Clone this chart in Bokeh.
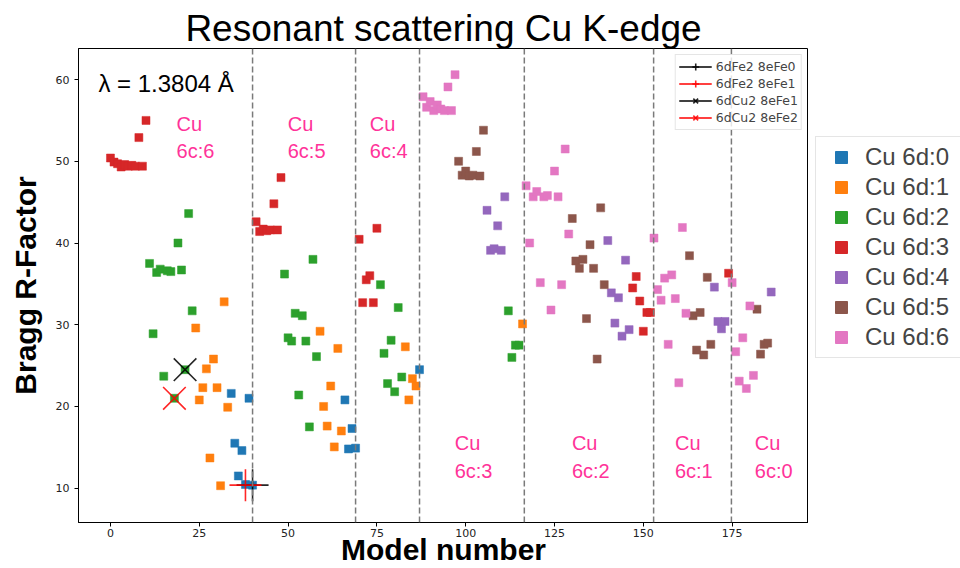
from bokeh.plotting import figure
from bokeh.layouts import row
from bokeh.models import Range1d, Span, Label, Legend, LegendItem, FixedTicker
from bokeh.core.properties import value
from bokeh.embed import file_html
from bokeh.resources import INLINE

# ---------------- data ----------------
series_names = ["Cu 6d:0", "Cu 6d:1", "Cu 6d:2", "Cu 6d:3", "Cu 6d:4", "Cu 6d:5", "Cu 6d:6"]
series_colors = ["#1f77b4", "#ff7f0e", "#2ca02c", "#d62728", "#9467bd", "#8c564b", "#e377c2"]

d0_model = [34, 35, 36, 37, 38, 39, 40, 66, 67, 68, 69, 87]
d0_r = [21.6, 15.5, 11.5, 14.6, 10.45, 21.0, 10.37, 20.8, 14.8, 17.3, 14.9, 24.5]

d1_model = [24, 25, 26, 27, 28, 29, 30, 31, 32, 33, 59, 60, 61, 62, 63, 64, 65, 83, 84, 85, 86, 116]
d1_r = [29.6, 20.8, 22.3, 24.6, 13.7, 25.8, 22.3, 10.3, 32.8, 19.9,
        29.2, 20.0, 17.6, 22.5, 15.05, 27.1, 17.0, 27.3, 20.8, 23.4, 22.5, 30.1]

d2_model = [11, 12, 13, 14, 15, 16, 17, 18, 19, 20, 21, 22, 23,
            49, 50, 51, 52, 53, 54, 55, 56, 57, 58,
            76, 77, 78, 79, 80, 81, 82, 112, 113, 114, 115]
d2_r = [37.5, 28.9, 36.4, 36.8, 23.7, 36.6, 36.5, 21.0, 40.0, 36.7, 24.5, 43.6, 31.7,
        36.2, 28.4, 28.0, 31.4, 21.4, 31.1, 28.0, 17.5, 38.0, 26.1,
        34.9, 26.5, 22.8, 28.1, 21.8, 32.1, 23.6, 31.7, 26.0, 27.5, 27.5]

d3_model = [0, 1, 2, 3, 4, 5, 6, 7, 8, 9, 10, 41, 42, 43, 44, 45, 46, 47, 48,
            70, 71, 72, 73, 74, 75, 147, 148, 149, 150, 151, 152, 174]
d3_r = [50.4, 49.9, 49.7, 49.3, 49.6, 49.4, 49.5, 49.4, 52.9, 49.4, 55.0,
        42.6, 41.4, 41.7, 41.5, 41.6, 44.8, 41.6, 48.0,
        40.45, 32.7, 35.5, 36.0, 32.7, 41.8, 34.5, 35.9, 32.9, 29.2, 31.5, 31.5, 36.3]

d4_model = [106, 107, 108, 109, 110, 111, 140, 141, 142, 143, 144, 145, 146, 170, 171, 172, 173, 186]
d4_r = [44.0, 39.1, 39.3, 42.1, 39.1, 45.65, 40.3, 33.9, 30.2, 33.3, 28.6, 37.9, 29.4,
        34.6, 30.4, 29.5, 30.4, 34.0]

d5_model = [98, 99, 100, 101, 102, 103, 104, 105, 130, 131, 132, 133, 134, 135, 136, 137, 138, 139,
            163, 164, 165, 166, 167, 168, 169, 182, 183, 184, 185]
d5_r = [50.0, 48.3, 48.8, 48.2, 48.3, 51.2, 48.2, 53.8,
        43.0, 37.8, 36.9, 38.0, 30.75, 39.8, 36.9, 25.8, 44.3, 34.9,
        38.45, 31.1, 26.9, 31.5, 26.3, 35.8, 27.6, 31.9, 26.4, 27.6, 27.75]

d6_model = [88, 89, 90, 91, 92, 93, 94, 95, 96, 97,
            117, 118, 119, 120, 121, 122, 123, 124, 125, 126, 127, 128, 129,
            153, 154, 155, 156, 157, 158, 159, 160, 161, 162,
            175, 176, 177, 178, 179, 180, 181]
d6_r = [57.9, 56.6, 57.3, 56.2, 56.9, 56.4, 56.2, 59.1, 56.2, 60.6,
        47.0, 40.0, 45.65, 46.3, 35.15, 45.65, 45.8, 31.8, 48.8, 45.65, 34.9, 51.5, 41.1,
        40.6, 34.3, 33.0, 35.7, 27.6, 36.1, 33.2, 22.9, 41.9, 31.4,
        35.15, 26.7, 23.1, 28.4, 22.2, 32.3, 23.8]

series_models = [d0_model, d1_model, d2_model, d3_model, d4_model, d5_model, d6_model]
series_r = [d0_r, d1_r, d2_r, d3_r, d4_r, d5_r, d6_r]

special_labels = ["6dFe2 8eFe0", "6dFe2 8eFe1", "6dCu2 8eFe1", "6dCu2 8eFe2"]
special_model = [40, 38, 21, 18]
special_r = [10.37, 10.37, 24.5, 21.0]
special_colors = ["black", "red", "black", "red"]
special_markers = ["cross", "cross", "x", "x"]

group_bounds = [40, 69, 87, 116.5, 152.9, 174.8]

annot_text = ["Cu\n6c:6", "Cu\n6c:5", "Cu\n6c:4", "Cu\n6c:3", "Cu\n6c:2", "Cu\n6c:1", "Cu\n6c:0"]
annot_x = [18.6, 49.9, 73.0, 96.9, 129.9, 158.9, 181.4]
annot_y = [52.9, 52.9, 52.9, 13.8, 13.8, 13.8, 13.8]

x_ticks = [0, 25, 50, 75, 100, 125, 150, 175]
y_ticks = [10, 20, 30, 40, 50, 60]

# ---------------- main figure ----------------
p = figure(width=808, height=568, output_backend="svg", toolbar_location=None,
           x_range=Range1d(-9, 196.5), y_range=Range1d(5.8, 63.8),
           min_border_left=78, min_border_right=0, min_border_top=48, min_border_bottom=45,
           title="Resonant scattering Cu K-edge")

p.title.text_font = "Liberation Sans"
p.title.text_font_size = "37px"
p.title.text_font_style = "normal"
p.title.align = "center"
p.title.standoff = 0
p.title.offset = 8
p.title.text_color = "black"

p.xgrid.visible = False
p.ygrid.visible = False
p.outline_line_color = "black"
p.outline_line_width = 1

for ax in (p.xaxis[0], p.yaxis[0]):
    ax.axis_line_color = "black"
    ax.major_tick_in = 0
    ax.major_tick_out = 4
    ax.major_tick_line_color = "black"
    ax.minor_tick_line_color = None
    ax.major_label_text_font = "DejaVu Sans"
    ax.major_label_text_font_size = "11px"
    ax.major_label_text_color = "#222222"
    ax.axis_label_text_font = "Liberation Sans"
    ax.axis_label_text_font_size = "30px"
    ax.axis_label_text_font_style = "bold"
    ax.axis_label_text_color = "black"

p.xaxis[0].ticker = FixedTicker(ticks=x_ticks)
p.yaxis[0].ticker = FixedTicker(ticks=y_ticks)
p.xaxis[0].major_label_standoff = 2
p.yaxis[0].major_label_standoff = 5

p.yaxis[0].axis_label = "Bragg R-Factor"
p.yaxis[0].axis_label_standoff = 11
p.xaxis[0].axis_label = "Model number"
p.xaxis[0].axis_label_standoff = -7

# group separators
for b in group_bounds:
    p.add_layout(Span(location=b, dimension="height", line_color="#7a7a7a",
                      line_width=1.5, line_dash="6 3"))

# series
series_renderers = []
for name, color, xs, ys in zip(series_names, series_colors, series_models, series_r):
    r = p.scatter(xs, ys, marker="square", size=8, fill_color=color, line_color=color,
                  line_width=0.5)
    series_renderers.append(r)

# special structures
special_items = []
for lab, xs, ys, c, m in zip(special_labels, special_model, special_r, special_colors, special_markers):
    lr = p.line([xs], [ys], line_color=c, line_width=1.5)
    sr = p.scatter([xs], [ys], marker=m, size=32, line_color=c, line_width=1.6,
                   line_alpha=0.85)
    special_items.append(LegendItem(label=lab, renderers=[lr, sr]))

# annotations
p.text(x=annot_x, y=annot_y, text=annot_text, text_font=value("Liberation Sans"),
       text_font_size="20px", text_color="#ff3399", text_align="left",
       text_baseline="middle", text_line_height=1.25)

p.add_layout(Label(x=-3.4, y=59.57, text="λ = 1.3804 Å", text_font="Liberation Sans",
                   text_font_size="24px", text_color="black", text_baseline="alphabetic"))

leg_special = Legend(items=special_items, location="top_right", margin=6,
                     label_text_font="DejaVu Sans", label_text_font_size="12.5px",
                     glyph_width=33, glyph_height=17, label_height=17, spacing=0,
                     padding=3, label_standoff=4,
                     border_line_color="#cccccc", background_fill_alpha=0.8)
p.add_layout(leg_special, "center")

# ---------------- legend panel (right of the axes) ----------------
# same series drawn again, outside the visible range, only to feed the legend
p2 = figure(width=152, height=568, output_backend="svg", toolbar_location=None,
            x_range=Range1d(-1000, -999), y_range=Range1d(-1000, -999),
            x_axis_location=None, y_axis_location=None,
            min_border_left=0, min_border_right=0, min_border_top=0, min_border_bottom=0)
p2.xgrid.visible = False
p2.ygrid.visible = False
p2.outline_line_color = None

legend_renderers = []
for color, xs, ys in zip(series_colors, series_models, series_r):
    legend_renderers.append(p2.scatter(xs, ys, marker="square", size=8,
                                       fill_color=color, line_color=color))

leg_series = Legend(items=[LegendItem(label=n, renderers=[r]) for n, r in zip(series_names, legend_renderers)],
                    location=(7, 164), margin=0, label_text_font="Liberation Sans",
                    label_text_font_size="24px", glyph_width=40, glyph_height=30,
                    label_height=30, spacing=0, padding=5, label_standoff=4, label_width=120,
                    border_line_color="#cccccc", background_fill_alpha=1.0)
p2.add_layout(leg_series, "center")

layout = row(p, p2, spacing=0)

open("out.html", "w").write(file_html(layout, INLINE))
